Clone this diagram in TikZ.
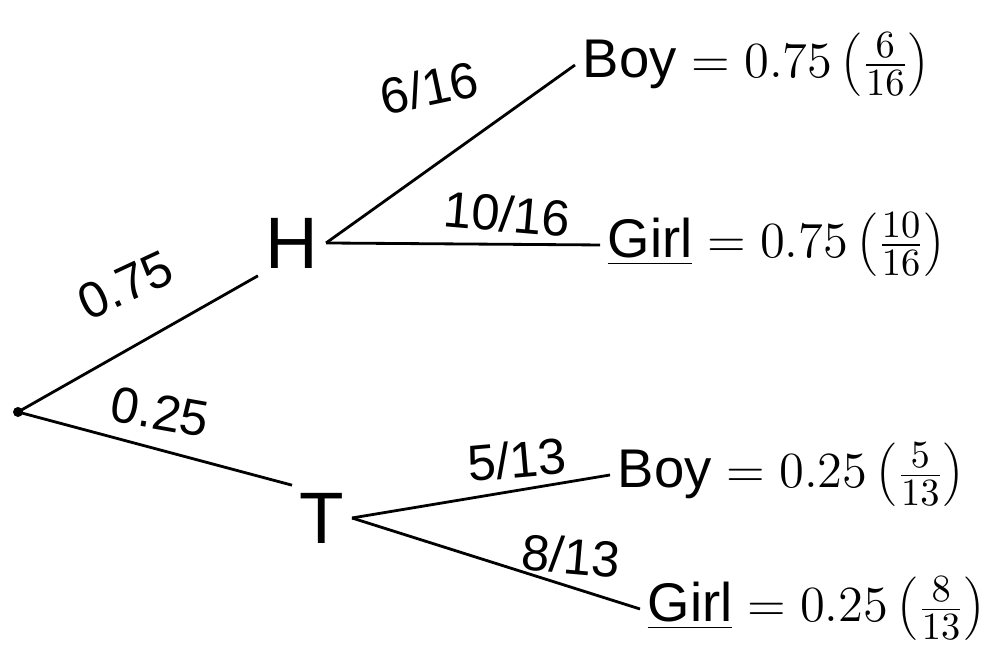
\documentclass[tikz,border=0pt]{standalone}
\usepackage{fontspec}
\setmainfont{Liberation Sans}
\usepackage{tikz}
\usetikzlibrary{positioning}

\begin{document}
\begin{tikzpicture}[
    branch/.style={thick},
    prob/.style={font=\Large, inner sep=3pt},
    state/.style={font=\huge, inner sep=2pt},
    leaf/.style={font=\fontsize{15.5}{18}\selectfont, anchor=west, inner sep=2pt},
]
    \useasboundingbox (0,0) rectangle (9.93,6.45);

    % Root and first level
    \coordinate (root) at (0.18,2.33);
    \fill (root) circle (0.05);
    \node[state] (H) at (2.92,4.02) {H};
    \node[state] (T) at (3.22,1.27) {T};

    % Leaves
    \coordinate (hb) at (5.75,5.8);
    \coordinate (hg) at (6.0,4.0);
    \coordinate (tb) at (6.1,1.7);
    \coordinate (tg) at (6.4,0.36);
    \node[leaf] (HB) at (hb) {Boy $= 0.75\left(\frac{6}{16}\right)$};
    \node[leaf] (HG) at (hg) {\underline{Girl} $= 0.75\left(\frac{10}{16}\right)$};
    \node[leaf] (TB) at (tb) {Boy $= 0.25\left(\frac{5}{13}\right)$};
    \node[leaf] (TG) at (tg) {\underline{Girl} $= 0.25\left(\frac{8}{13}\right)$};

    % Branches
    \draw[branch] (root) -- (H.south west) node[prob, midway, above=9pt, rotate=25] {0.75};
    \draw[branch] (root) -- (T.north west) node[prob, midway, above=2pt, rotate=-10] {0.25};
    \draw[branch] (H.east) -- (hb) node[prob, pos=0.72, above left=4pt, rotate=12] {6/16};
    \draw[branch] (H.east) -- (hg) node[prob, pos=0.65, above, rotate=-5] {10/16};
    \draw[branch] (T.east) -- (tb) node[prob, pos=0.65, above, rotate=5] {5/13};
    \draw[branch] (T.east) -- (tg) node[prob, pos=0.75, above, rotate=-5] {8/13};
\end{tikzpicture}
\end{document}
